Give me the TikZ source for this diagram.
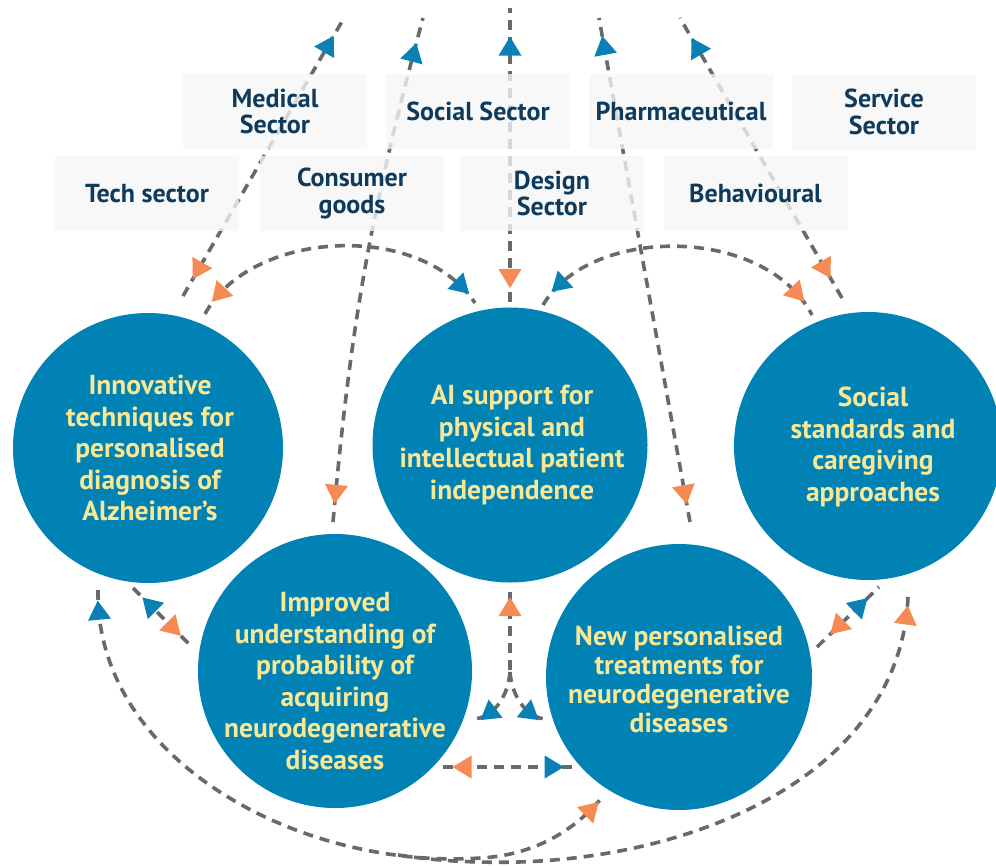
\documentclass[tikz,border=0pt]{standalone}
\usepackage{fontspec}
\setmainfont{PT Sans}
\usetikzlibrary{decorations.markings}
\definecolor{circ}{RGB}{0,131,180}
\definecolor{tblue}{RGB}{10,128,180}
\definecolor{torange}{RGB}{245,138,85}
\definecolor{dgray}{RGB}{105,105,105}
\definecolor{ctxt}{RGB}{248,232,150}
\definecolor{ltxt}{RGB}{14,58,92}
\definecolor{boxfill}{RGB}{246,246,246}
\tikzset{
  bubble/.style={circle, fill=circ, inner sep=0pt, outer sep=0pt},
  ctext/.style={text=ctxt, font=\bfseries\fontsize{27.5}{31.5}\selectfont, align=center, inner sep=0pt},
  sector/.style={fill=boxfill, fill opacity=0.78, text opacity=1, text=ltxt,
    font=\bfseries\fontsize{26}{26.5}\selectfont, align=center,
    minimum width=184pt, minimum height=75pt, inner sep=0pt},
  conn/.style={draw=dgray, line width=3.6pt, dash pattern=on 10pt off 7pt},
  tipback/.style 2 args={postaction={decorate, decoration={markings,
    mark=at position #1 with {\fill[#2] (-12.5pt,0) -- (6.5pt,11.5pt) -- (6.5pt,-11.5pt) -- cycle;}}}},
  tipfwd/.style 2 args={postaction={decorate, decoration={markings,
    mark=at position #1 with {\fill[#2] (12.5pt,0) -- (-6.5pt,11.5pt) -- (-6.5pt,-11.5pt) -- cycle;}}}},
}
\begin{document}
\begin{tikzpicture}[x=1pt,y=-1pt]
\useasboundingbox (0,0) rectangle (996,865);

% circles
\node[bubble, minimum size=270pt] (c1) at (148,448) {};
\node[bubble, minimum size=275pt] (c2) at (510,445) {};
\node[bubble, minimum size=268pt] (c3) at (868,446) {};
\node[bubble, minimum size=274pt] (c4) at (335,671) {};
\node[bubble, minimum size=266pt] (c5) at (679,677) {};

\node[ctext] (t1) at ([xshift=2pt]c1.center) {Innovative\\techniques for\\personalised\\diagnosis of\\Alzheimer's};
\node[ctext] (t2) at ([xshift=2pt]c2.center) {AI support for\\physical and\\intellectual patient\\independence};
\node[ctext] (t3) at ([xshift=5pt,yshift=-1pt]c3.center) {Social\\standards and\\caregiving\\approaches};
\node[ctext] (t4) at ([yshift=-10pt]c4.center) {Improved\\understanding of\\probability of\\acquiring\\neurodegenerative\\diseases};
\node[ctext, font=\bfseries\fontsize{27.5}{29}\selectfont] (t5) at ([yshift=-2pt]c5.center) {New personalised\\treatments for\\neurodegenerative\\diseases};

% free ends
\coordinate (top1) at (344,18);
\coordinate (top2) at (423,18);
\coordinate (top3) at (510,8);
\coordinate (top4) at (599,18);
\coordinate (top5) at (680,18);
\coordinate (split) at (510,672);
\coordinate (merge) at (398,855);

% connectors to the sectors
\draw[conn, tipback={0.1}{torange}, tipfwd={0.897}{tblue}]
  ([shift={(35,-152)}]c1.center) -- (top1);
\draw[conn, tipback={0.06}{torange}, tipfwd={0.925}{tblue}]
  ([shift={(-2,-149)}]c4.center) to[bend left=5] (top2);
\draw[conn, tipback={0.09}{torange}, tipfwd={0.86}{tblue}]
  ([shift={(0,-143)}]c2.center) -- (top3);
\draw[conn, tipback={0.06}{torange}, tipfwd={0.94}{tblue}]
  ([shift={(11,-155)}]c5.center) -- (top4);
\draw[conn, tipback={0.11}{torange}, tipfwd={0.89}{tblue}]
  ([shift={(-26,-148)}]c3.center) -- (top5);

% upper arcs
\draw[conn, tipback={0.085}{torange}, tipfwd={0.925}{tblue}]
  ([shift={(57,-134)}]c1.center) .. controls (250,230) and (420,220) .. ([shift={(-35,-142)}]c2.center);
\draw[conn, tipback={0.09}{tblue}, tipfwd={0.91}{torange}]
  ([shift={(33,-140)}]c2.center) .. controls (590,225) and (765,225) .. ([shift={(-56,-131)}]c3.center);

% lower connectors
\draw[conn, tipback={0.31}{tblue}, tipfwd={0.66}{torange}]
  ([shift={(-15,140)}]c1.center) -- ([shift={(-143,-24)}]c4.center);
\draw[conn, tipback={0.22}{torange}]
  ([shift={(0,147)}]c2.center) -- (split);
\draw[conn, tipfwd={0.7}{tblue}]
  (split) .. controls (508,698) and (492,719) .. ([shift={(137,48)}]c4.center);
\draw[conn, tipfwd={0.7}{tblue}]
  (split) .. controls (512,698) and (528,719) .. ([shift={(-132,42)}]c5.center);
\draw[conn, tipback={0.167}{torange}, tipfwd={0.82}{tblue}]
  ([shift={(108,96)}]c4.center) -- ([shift={(-104,90)}]c5.center);
\draw[conn, tipback={0.36}{torange}, tipfwd={0.67}{tblue}]
  ([shift={(138,-30)}]c5.center) -- ([shift={(11,141)}]c3.center);
\draw[conn, tipback={0.035}{tblue}, tipfwd={0.968}{torange}]
  ([shift={(-50,142)}]c1.center) .. controls (95,760) and (300,870) .. (480,858)
  .. controls (540,855) and (580,825) .. ([shift={(-75,118)}]c5.center);
\draw[conn, tipback={0.033}{torange}]
  ([shift={(40,151)}]c3.center) .. controls (900,780) and (680,868) .. (480,862)
  .. controls (440,861) and (420,858) .. (merge);

% sector labels
\node[sector] (s1) at (275,111.5) {Medical\\Sector};
\node[sector] (s2) at (478,111.5) {Social Sector};
\node[sector] (s3) at (681,111.5) {Pharmaceutical};
\node[sector] (s4) at (884,112) {Service\\Sector};
\node[sector] (s5) at (147,193.5) {Tech sector};
\node[sector] (s6) at (352,193.5) {Consumer\\goods};
\node[sector] (s7) at (552,193.5) {Design\\Sector};
\node[sector] (s8) at (755.5,193.5) {Behavioural};
\end{tikzpicture}
\end{document}
